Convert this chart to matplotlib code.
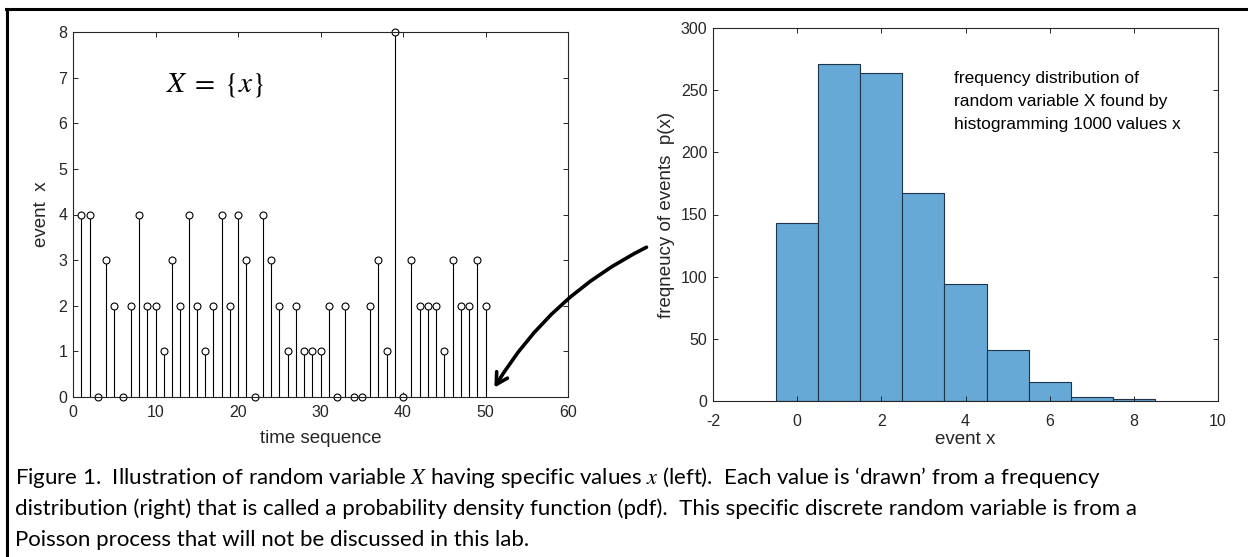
import matplotlib
matplotlib.use('Agg')
import matplotlib.pyplot as plt
from matplotlib.lines import Line2D
from matplotlib.patches import FancyArrowPatch

# left panel: one drawn value per time step
time_steps = list(range(1, 51))
events = [4, 4, 0, 3, 2, 0, 2, 4, 2, 2,
          1, 3, 2, 4, 2, 1, 2, 4, 2, 4,
          3, 0, 4, 3, 2, 1, 2, 1, 1, 1,
          2, 0, 2, 0, 0, 2, 3, 1, 8, 0,
          3, 2, 2, 2, 1, 3, 2, 2, 3, 2]

# right panel: histogram of 1000 values
bin_centres = [0, 1, 2, 3, 4, 5, 6, 7, 8]
bin_counts = [143, 271, 264, 167, 94, 41, 15, 3, 2]

caption_lines = [
    "Figure 1.  Illustration of random variable $X$ having specific values $x$ (left).  "
    "Each value is \u2018drawn\u2019 from a frequency",
    "distribution (right) that is called a probability density function (pdf).  "
    "This specific discrete random variable is from a",
    "Poisson process that will not be discussed in this lab.",
]

plt.rcParams['font.family'] = ['Liberation Sans', 'DejaVu Sans']
plt.rcParams['mathtext.fontset'] = 'stix'
plt.rcParams['axes.unicode_minus'] = False

W, H = 1248, 557
fig = plt.figure(figsize=(W / 100, H / 100), dpi=100)


def px_axes(left, top, right, bottom):
    return fig.add_axes([left / W, 1 - bottom / H, (right - left) / W, (bottom - top) / H])


def matlab_style(ax, xpad):
    for s in ax.spines.values():
        s.set_color('#262626')
        s.set_linewidth(0.8)
    ax.tick_params(direction='in', top=True, right=True, length=3.6, width=0.7,
                   colors='#262626', labelsize=11.5, pad=4)
    ax.tick_params(axis='x', pad=xpad)


ax1 = px_axes(73, 32, 568, 397)
ax1.vlines(time_steps, 0, events, color='black', lw=0.8)
ax1.plot(time_steps, events, 'o', mfc='white', mec='black', ms=5, mew=0.8, clip_on=False)
ax1.set_xlim(0, 60)
ax1.set_ylim(0, 8)
ax1.set_xticks(range(0, 61, 10))
ax1.set_yticks(range(0, 9))
ax1.set_xlabel('time sequence', fontsize=13.5, color='#262626', labelpad=7)
ax1.set_ylabel('event  x', fontsize=13.5, color='#262626', labelpad=6)
ax1.text(0.188, 0.855, r'$X \;=\; \{x\}$', transform=ax1.transAxes, fontsize=21,
         ha='left', va='center')
matlab_style(ax1, 6)

ax2 = px_axes(713, 28, 1218, 401)
ax2.bar(bin_centres, bin_counts, width=1, color='#66a9d6', edgecolor='#1e3448', lw=0.8)
ax2.set_xlim(-2, 10)
ax2.set_ylim(0, 300)
ax2.set_xticks(range(-2, 11, 2))
ax2.set_yticks(range(0, 301, 50))
ax2.set_xlabel('event x', fontsize=13.5, color='#262626', labelpad=2)
ax2.set_ylabel('freqneucy of events  p(x)', fontsize=13.5, color='#262626', labelpad=4)
ax2.text(0.478, 0.885, 'frequency distribution of\nrandom variable X found by\nhistogramming 1000 values x',
         transform=ax2.transAxes, fontsize=12.5, va='top', ha='left', linespacing=1.68)
matlab_style(ax2, 9)

# curved arrow from histogram to the stem plot
arrow = FancyArrowPatch((649 / W, 1 - 246 / H), (493 / W, 1 - 390 / H),
                        transform=fig.transFigure, connectionstyle='arc3,rad=0.15',
                        arrowstyle='->,head_length=8,head_width=4.5', lw=2.6, color='black')
fig.add_artist(arrow)

# document frame
fig.add_artist(Line2D([7 / W, 7 / W], [0, 1 - 9 / H], color='black', lw=2.2))
fig.add_artist(Line2D([6 / W, 1], [1 - 9 / H, 1 - 9 / H], color='black', lw=2.2))

for i, line in enumerate(caption_lines):
    fig.text(15 / W, 1 - (477 + 31.5 * i) / H, line, fontsize=16, family=['Lato', 'DejaVu Sans'],
             va='center', ha='left', color='black')

fig.savefig('out.png', dpi=100)
